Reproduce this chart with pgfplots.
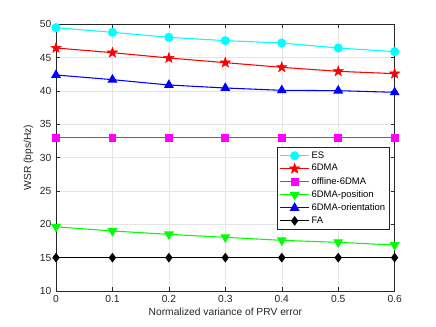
\documentclass[border=0pt]{standalone}
\usepackage{pgfplots}
\pgfplotsset{compat=1.18}
\usepackage{fontspec}
\setmainfont{Liberation Sans}
\definecolor{axgray}{rgb}{0.15,0.15,0.15}
\definecolor{mcyan}{rgb}{0,1,1}
\definecolor{mred}{rgb}{1,0,0}
\definecolor{mmag}{rgb}{1,0,1}
\definecolor{mgreen}{rgb}{0,1,0}
\definecolor{mblue}{rgb}{0,0,1}
\pgfdeclareplotmark{fstar}{%
  \pgfpathmoveto{\pgfqpointpolar{90}{1\pgfplotmarksize}}%
  \pgfpathlineto{\pgfqpointpolar{126}{0.4\pgfplotmarksize}}%
  \pgfpathlineto{\pgfqpointpolar{162}{1\pgfplotmarksize}}%
  \pgfpathlineto{\pgfqpointpolar{198}{0.4\pgfplotmarksize}}%
  \pgfpathlineto{\pgfqpointpolar{234}{1\pgfplotmarksize}}%
  \pgfpathlineto{\pgfqpointpolar{270}{0.4\pgfplotmarksize}}%
  \pgfpathlineto{\pgfqpointpolar{306}{1\pgfplotmarksize}}%
  \pgfpathlineto{\pgfqpointpolar{342}{0.4\pgfplotmarksize}}%
  \pgfpathlineto{\pgfqpointpolar{18}{1\pgfplotmarksize}}%
  \pgfpathlineto{\pgfqpointpolar{54}{0.4\pgfplotmarksize}}%
  \pgfpathclose\pgfusepathqfillstroke}
\begin{document}
\begin{tikzpicture}
\path[use as bounding box] (-42pt,-27pt) rectangle (285pt,218.25pt);
\begin{axis}[
  at={(0,0)}, anchor=south west,
  scale only axis, width=254pt, height=200pt,
  xmin=0, xmax=0.6, ymin=10, ymax=50,
  xtick={0,0.1,...,0.6}, ytick={10,15,...,50},
  xticklabels={0,0.1,0.2,0.3,0.4,0.5,0.6},
  grid=major, grid style={gray!20, line width=0.4pt},
  axis line style={axgray, line width=0.5pt},
  tick style={axgray, line width=0.4pt},
  tick align=inside, major tick length=3pt,
  ticklabel style={font=\fontsize{7.7}{9}\selectfont, text=axgray},
  /pgf/number format/assume math mode=true,
  xlabel={Normalized variance of PRV error},
  ylabel={WSR (bps/Hz)},
  label style={font=\fontsize{7.7}{9}\selectfont, text=axgray},
  xlabel style={yshift=3pt},
  ylabel style={yshift=-2pt},
  legend style={at={(0.985,0.54)}, anchor=north east, font=\fontsize{7.1}{8.5}\selectfont,
    draw=axgray, line width=0.5pt, row sep=0pt, inner sep=1.5pt,
    nodes={inner ysep=1.6pt, inner xsep=1.5pt}},
  legend cell align=left,
  legend image code/.code={\draw[mark repeat=2,mark phase=2] plot coordinates {(0cm,0cm)(0.38cm,0cm)(0.76cm,0cm)};},
  every axis plot/.append style={line width=0.8pt},
]
\addplot[mcyan, mark=*, mark size=3pt] coordinates {(0,49.5)(0.1,48.8)(0.2,48.05)(0.3,47.55)(0.4,47.2)(0.5,46.45)(0.6,45.9)};
\addplot[mred, mark=fstar, mark size=4pt, mark options={line width=0.4pt}] coordinates {(0,46.45)(0.1,45.75)(0.2,44.95)(0.3,44.25)(0.4,43.55)(0.5,42.95)(0.6,42.6)};
\addplot[mmag, mark=square*, mark size=2.5pt] coordinates {(0,33)(0.1,33)(0.2,33)(0.3,33)(0.4,33)(0.5,33)(0.6,33)};
\addplot[mgreen, mark=triangle*, mark size=3.5pt, mark options={rotate=180}] coordinates {(0,19.63)(0.1,19.0)(0.2,18.5)(0.3,18.05)(0.4,17.6)(0.5,17.3)(0.6,16.9)};
\addplot[mblue, mark=triangle*, mark size=3.5pt] coordinates {(0,42.4)(0.1,41.7)(0.2,40.9)(0.3,40.45)(0.4,40.1)(0.5,40.05)(0.6,39.8)};
\addplot[black, mark=diamond*, mark size=3pt] coordinates {(0,15)(0.1,15)(0.2,15)(0.3,15)(0.4,15)(0.5,15)(0.6,15)};
\legend{ES,6DMA,offline-6DMA,6DMA-position,6DMA-orientation,FA}
\end{axis}
\end{tikzpicture}
\end{document}
